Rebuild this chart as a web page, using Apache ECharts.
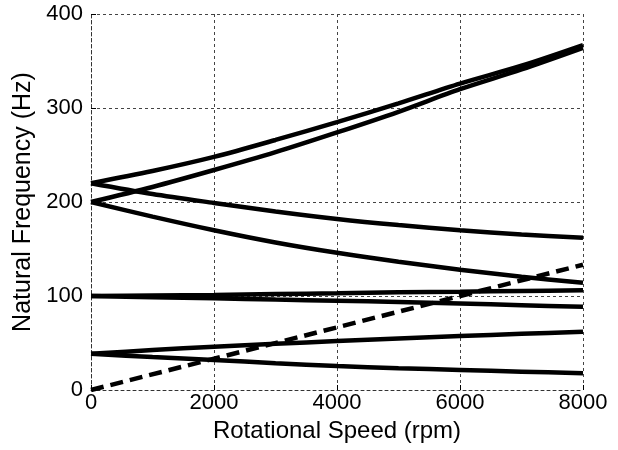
<!DOCTYPE html>
<html>
<head>
<meta charset="utf-8">
<script src="https://cdn.jsdelivr.net/npm/echarts@6/dist/echarts.min.js"></script>
<style>html,body{margin:0;padding:0;background:#fff;}#c{width:618px;height:450px;}</style>
</head>
<body>
<div id="c"></div>
<script>
var speeds = [0, 1000, 2000, 3000, 4000, 5000, 6000, 7000, 8000];
var modeA = [220, 233, 248, 266, 285, 305, 326, 345, 367];
var modeB = [200, 216, 234, 253, 274, 296, 320, 341, 364];
var modeC = [220, 208.5, 199, 190, 182, 175.5, 170, 165.5, 162];
var modeD = [200, 184.5, 170, 157, 146, 136.5, 128, 120.5, 114];
var modeE = [100, 100.5, 101, 102, 103, 104, 104.6, 105.4, 106];
var modeF = [100, 98.8, 97.5, 96.2, 95, 93.6, 92, 90.2, 88.5];
var modeG = [38.5, 42.5, 46, 49.2, 52, 54.8, 57.4, 59.8, 62];
var modeH = [38.5, 35, 32, 28.5, 25.5, 23.2, 21.3, 19.5, 17.8];
var excitX = [0, 8000];
var excitY = [0, 133.3];
var xTicks = [0, 2000, 4000, 6000, 8000];
var yTicks = [0, 100, 200, 300, 400];

function pairs(xs, ys) { return xs.map(function (x, i) { return [x, ys[i]]; }); }
var modes = [modeA, modeB, modeC, modeD, modeE, modeF, modeG, modeH];
var series = modes.map(function (m) {
  return { type: 'line', data: pairs(speeds, m), smooth: 0.3, showSymbol: false,
    lineStyle: { color: '#000', width: 4.5 }, z: 3 };
});
series.push({ type: 'line', data: pairs(excitX, excitY), showSymbol: false,
  lineStyle: { color: '#000', width: 4.5, type: [13, 7] }, z: 4 });

var FONT = 'Liberation Sans';
var gridLine = { show: true, lineStyle: { color: '#444', width: 1, type: [3, 3] } };
var chart = echarts.init(document.getElementById('c'), null, { renderer: 'canvas' });
chart.setOption({
  animation: false,
  backgroundColor: '#fff',
  grid: { left: 91, right: 35, top: 14, bottom: 60 },
  xAxis: {
    type: 'value', min: 0, max: 8000, interval: 2000,
    name: 'Rotational Speed (rpm)', nameLocation: 'middle', nameGap: 25,
    nameTextStyle: { fontFamily: FONT, fontSize: 24, color: '#000' },
    axisLine: { show: true, lineStyle: { color: '#333', width: 1, type: [3, 3] } },
    axisTick: { show: true, inside: true, length: 5, lineStyle: { color: '#000' } },
    axisLabel: { fontFamily: FONT, fontSize: 22, color: '#000', margin: 2,
      formatter: function (v) { return xTicks.indexOf(v) >= 0 ? String(v) : ''; } },
    splitLine: gridLine
  },
  yAxis: {
    type: 'value', min: 0, max: 400, interval: 100,
    name: 'Natural Frequency (Hz)', nameLocation: 'middle', nameGap: 52,
    nameTextStyle: { fontFamily: FONT, fontSize: 25, color: '#000' },
    axisLine: { show: true, lineStyle: { color: '#333', width: 1, type: [3, 3] } },
    axisTick: { show: true, inside: true, length: 5, lineStyle: { color: '#000' } },
    axisLabel: { fontFamily: FONT, fontSize: 22, color: '#000', margin: 8,
      formatter: function (v) { return yTicks.indexOf(v) >= 0 ? String(v) : ''; } },
    splitLine: gridLine
  },
  series: series
});
</script>
</body>
</html>
